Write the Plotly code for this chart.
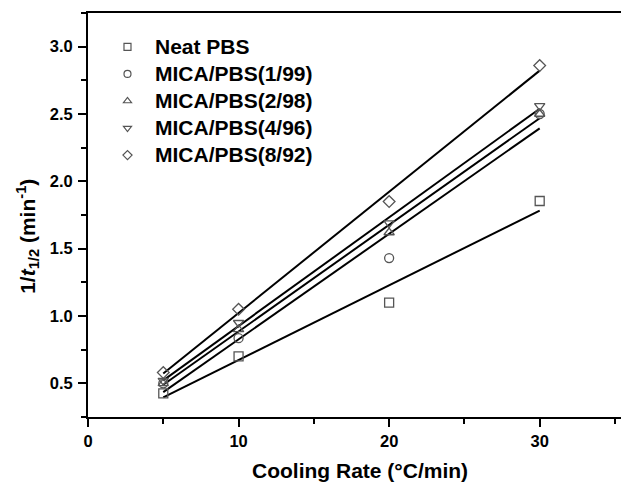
import numpy as np
import plotly.graph_objects as go

# Data
cooling_rate = [5, 10, 20, 30]
series_names = ["Neat PBS", "MICA/PBS(1/99)", "MICA/PBS(2/98)", "MICA/PBS(4/96)", "MICA/PBS(8/92)"]
neat_pbs = [0.425, 0.70, 1.10, 1.854]
mica_1_99 = [0.50, 0.835, 1.43, 2.50]
mica_2_98 = [0.50, 0.90, 1.62, 2.50]
mica_4_96 = [0.52, 0.95, 1.69, 2.56]
mica_8_92 = [0.58, 1.05, 1.85, 2.86]
x_ticks = [0, 10, 20, 30]
y_ticks = [0.5, 1.0, 1.5, 2.0, 2.5, 3.0]

all_series = [neat_pbs, mica_1_99, mica_2_98, mica_4_96, mica_8_92]
symbols = ["square-open", "circle-open", "triangle-up-open", "triangle-down-open", "diamond-open"]

FONT = "Liberation Sans, Arial, Helvetica, sans-serif"
MCOL = "#555555"

fig = go.Figure()

# fitted lines
for ys in all_series:
    slope, intercept = np.polyfit(cooling_rate, ys, 1)
    xf = np.array([min(cooling_rate), max(cooling_rate)], dtype=float)
    fig.add_trace(go.Scatter(x=xf, y=slope * xf + intercept, mode="lines",
                             line=dict(color="black", width=2), showlegend=False,
                             hoverinfo="skip"))

# data points
for name, ys, sym in zip(series_names, all_series, symbols):
    fig.add_trace(go.Scatter(x=cooling_rate, y=ys, mode="markers", name=name,
                             marker=dict(symbol=sym, size=9, color=MCOL,
                                         line=dict(width=1.3, color=MCOL)),
                             showlegend=False))

# legend entries
for i, (name, sym) in enumerate(zip(series_names, symbols)):
    fig.add_trace(go.Scatter(x=[None], y=[None], mode="markers",
                             name=f'<span style="font-size:21px">{name}</span>',
                             legendgroup=f"g{i}",
                             marker=dict(symbol=sym, size=7, color=MCOL,
                                         line=dict(width=1.2, color=MCOL))))

tickfont = dict(family=FONT, size=16.5, weight="bold", color="black")

fig.update_layout(
    width=621, height=485,
    margin=dict(l=88, r=0, t=13, b=68),
    paper_bgcolor="white", plot_bgcolor="white",
    font=dict(family=FONT, color="black"),
    showlegend=True,
    legend=dict(x=0.0225, y=0.962, xanchor="left", yanchor="top",
                bgcolor="rgba(0,0,0,0)", borderwidth=0,
                font=dict(family=FONT, size=18.5, weight="bold", color="black"),
                traceorder="grouped", tracegroupgap=0, itemwidth=45),
    xaxis=dict(range=[0, 35.4], tickvals=x_ticks, ticks="outside", ticklen=8,
               tickwidth=1.5, tickcolor="black",
               minor=dict(dtick=5, ticks="outside", ticklen=5, tickwidth=1.5, tickcolor="black"),
               showline=True, linewidth=2, linecolor="black", mirror=True,
               showgrid=False, zeroline=False, tickfont=tickfont),
    yaxis=dict(range=[0.25, 3.25], tickvals=y_ticks, tickformat=".1f", ticks="outside",
               ticklen=8, tickwidth=1.5, tickcolor="black",
               minor=dict(dtick=0.25, ticks="outside", ticklen=5, tickwidth=1.5, tickcolor="black"),
               showline=True, linewidth=2, linecolor="black",
               showgrid=False, zeroline=False, tickfont=tickfont,
               ticklabelstandoff=2),
    annotations=[
        dict(text="<b>Cooling Rate (°C/min)</b>", xref="paper", yref="paper",
             x=0.51, y=0, xanchor="center", yanchor="middle", yshift=-53,
             showarrow=False, font=dict(family=FONT, size=21, color="black")),
        dict(text="<b>1/<i>t</i><sub>1/2</sub> (min<sup>-1</sup>)</b>", xref="paper", yref="paper",
             x=0, y=0.446, xanchor="center", yanchor="middle", xshift=-60, textangle=-90,
             showarrow=False, font=dict(family=FONT, size=21, color="black")),
    ],
)

fig.write_html("out.html")
